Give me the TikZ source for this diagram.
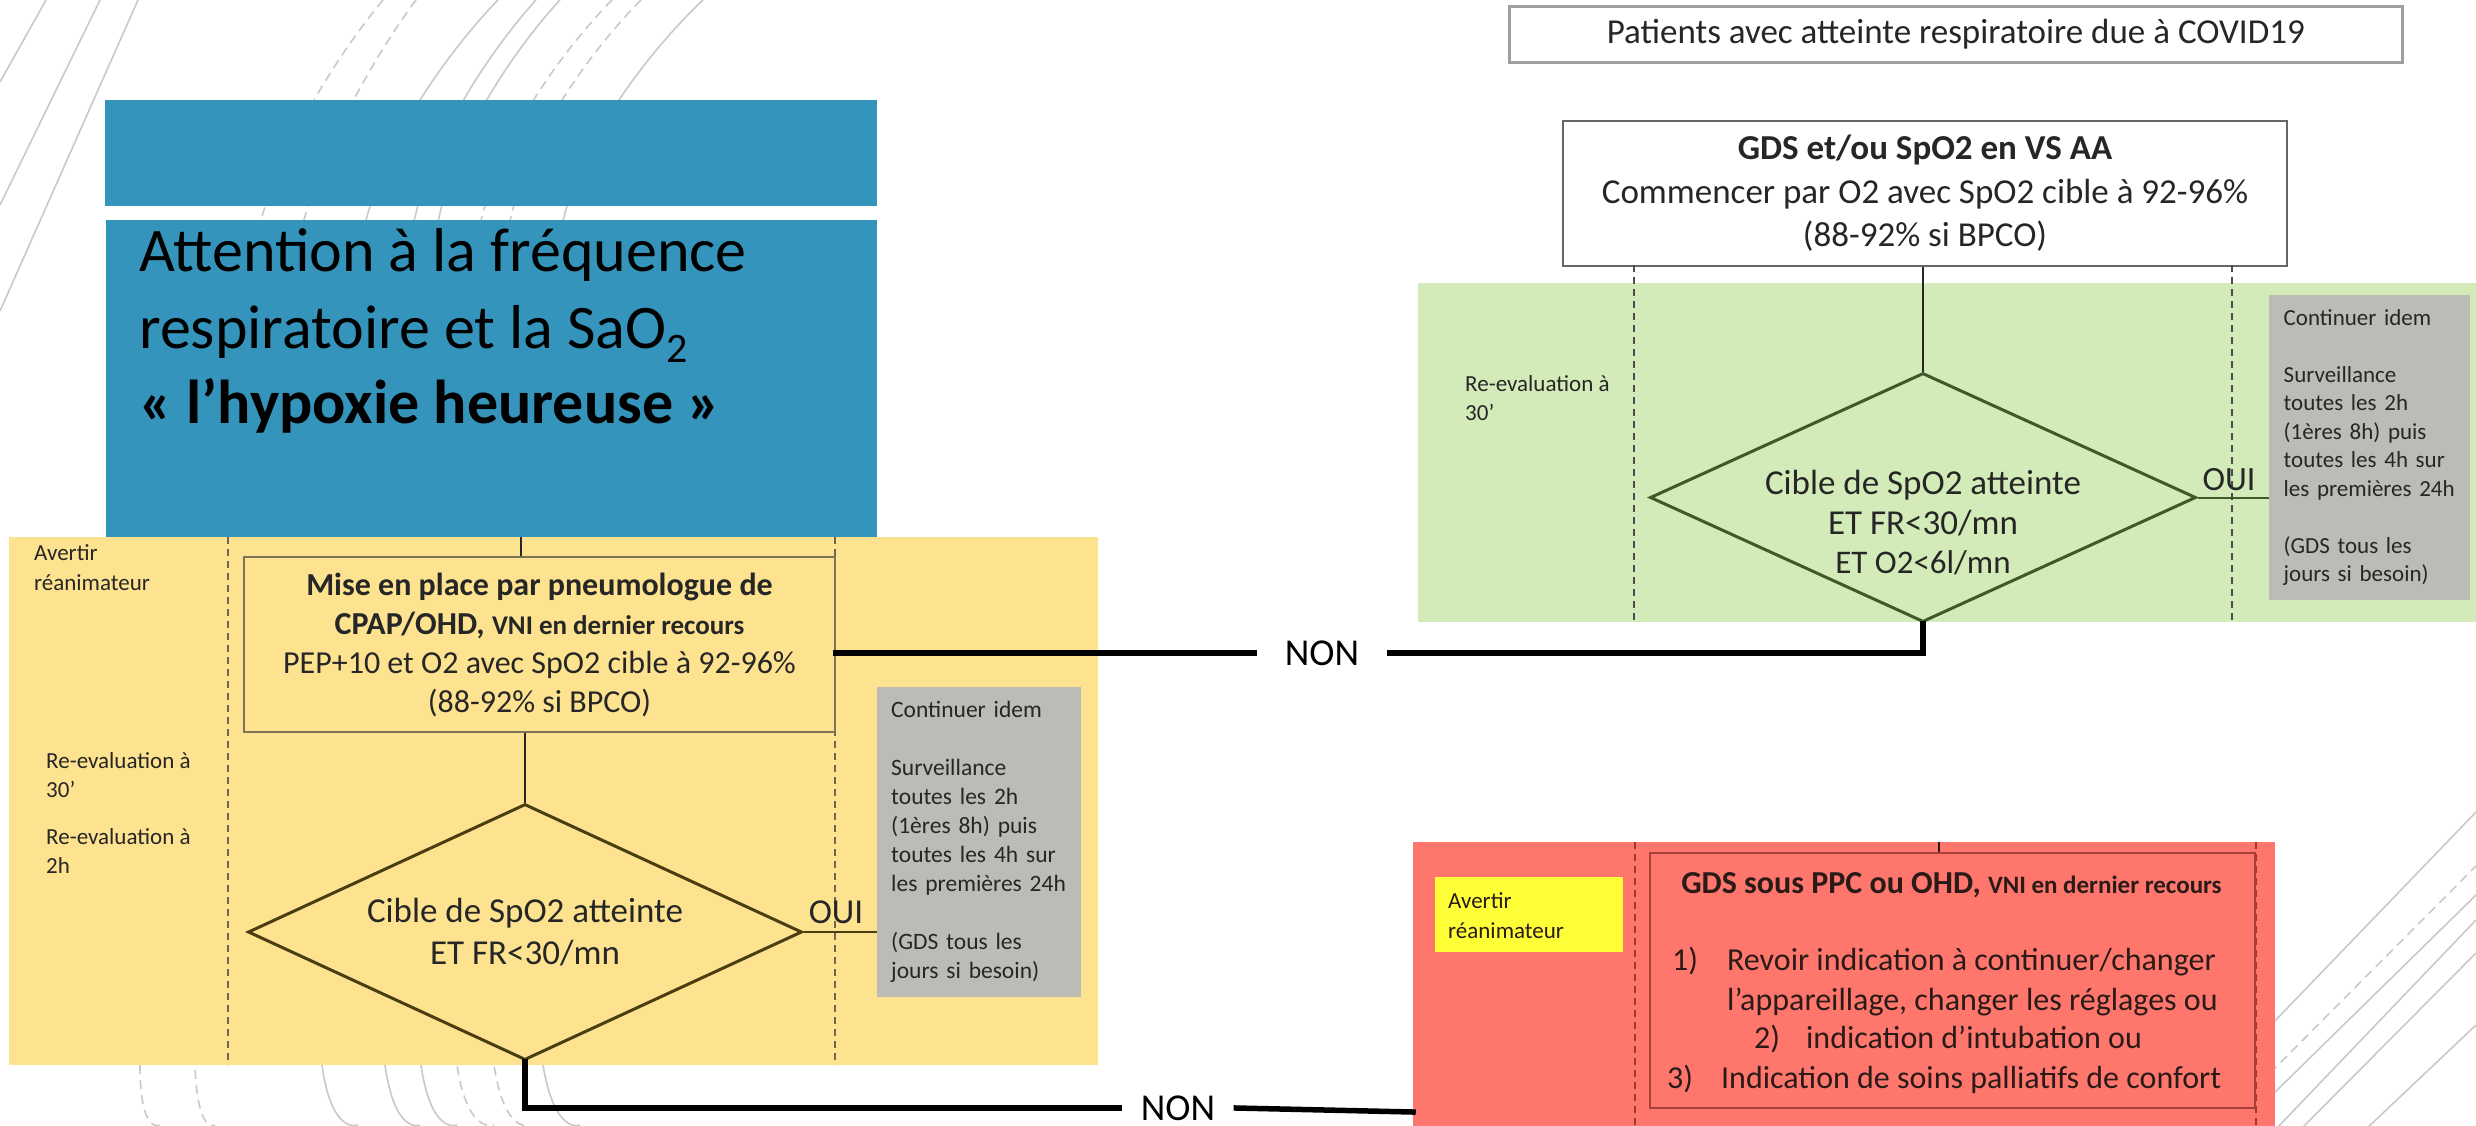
\documentclass[tikz,border=0pt]{standalone}
\usepackage{fontspec}
\setmainfont{Carlito}
\usetikzlibrary{shapes.geometric,calc}
\newcommand\fsz[2]{\fontsize{#1}{#2}\selectfont}
\definecolor{bluebox}{HTML}{3594BB}
\definecolor{ypanelc}{HTML}{FDE38F}
\definecolor{gpanelc}{HTML}{D3EBB8}
\definecolor{rpanelc}{HTML}{FF766C}
\definecolor{graybox}{HTML}{BDBBB6}
\definecolor{hiyellow}{HTML}{FFFF38}
\definecolor{decogray}{HTML}{C9C9C9}
\definecolor{ink}{HTML}{262626}
\definecolor{ydashc}{HTML}{6E6650}
\definecolor{yboxline}{HTML}{7D7355}
\definecolor{ydiamline}{HTML}{4B3D12}
\definecolor{gdiamline}{HTML}{3D5A28}
\definecolor{rdashc}{HTML}{9A3A35}
\definecolor{rboxline}{HTML}{A8403A}
\definecolor{rink}{HTML}{2A1A18}
\begin{document}
\begin{tikzpicture}[x=1pt,y=-1pt,
  deco/.style={draw=decogray,line width=1.6pt},
  decod/.style={deco,dash pattern=on 9pt off 6pt},
  pdash/.style={line width=1.4pt,dash pattern=on 7pt off 5pt},
  thinline/.style={line width=2pt},
  nonline/.style={draw=black,line width=5.5pt,line cap=rect},
  lbl/.style={anchor=base west,inner sep=0pt,font=\fsz{23}{29},text=ink},
  bluetxt/.style={anchor=base west,inner sep=0pt,font=\fsz{62}{77},text=black},
  panel/.style={anchor=north west,inner sep=0pt},
  graytxt/.style={anchor=north west,fill=graybox,inner ysep=0pt,align=left,text=ink}
]
\useasboundingbox (0,0) rectangle (2476,1125);
\fill[white] (0,0) rectangle (2476,1125);

% decorative background lines
\draw[deco] (46,0) -- (0,82);
\draw[deco] (100,0) -- (0,205);
\draw[deco] (138,0) -- (0,311);
\draw[decod] plot[smooth,tension=0.6] coordinates {(383,0) (263,213) (160,700) (140,1065) (160,1125)};
\draw[decod] plot[smooth,tension=0.6] coordinates {(416,0) (306,213) (200,700) (195,1065) (215,1125)};
\draw[deco] plot[smooth,tension=0.6] coordinates {(498,0) (368,213) (300,700) (322,1065) (358,1125)};
\draw[deco] plot[smooth,tension=0.6] coordinates {(536,0) (416,213) (360,700) (385,1065) (420,1125)};
\draw[deco] plot[smooth,tension=0.6] coordinates {(560,0) (440,213) (395,700) (421,1065) (457,1125)};
\draw[decod] plot[smooth,tension=0.6] coordinates {(612,0) (483,213) (430,700) (457,1065) (494,1125)};
\draw[decod] plot[smooth,tension=0.6] coordinates {(641,0) (512,213) (465,700) (494,1065) (530,1125)};
\draw[deco] plot[smooth,tension=0.6] coordinates {(703,0) (565,213) (510,700) (543,1065) (580,1125)};
\draw[deco] (2270,1026) -- (2476,812);
\draw[decod] (2270,1073) -- (2476,866);
\draw[deco] (2270,1097) -- (2476,895);
\draw[deco] (2275,1130) -- (2476,920);
\draw[deco] (2300,1130) -- (2476,953);
\draw[deco] (2365,1130) -- (2476,1025);

% blue title boxes
\node[panel,fill=bluebox,minimum width=772pt,minimum height=106pt] (blue1) at (105,100) {};
\node[panel,fill=bluebox,minimum width=771pt,minimum height=317pt] (blue2) at (106,220) {};
\node[bluetxt] (bt1) at (139,271) {Attention à la fréquence};
\node[bluetxt] (bt2) at (139,348) {respiratoire et la SaO\raisebox{-14pt}{\fsz{42}{42}2}};
\node[bluetxt,font=\fsz{62}{77}\bfseries] (bt3) at (139,423) {« l’hypoxie heureuse »};

% yellow panel
\node[panel,fill=ypanelc,minimum width=1089pt,minimum height=528pt] (ypanel) at (9,537) {};
\draw[pdash,draw=ydashc] (228,537) -- (228,1065);
\draw[pdash,draw=ydashc] (835,537) -- (835,1065);
\node[panel,draw=yboxline,line width=2pt,minimum width=591pt,minimum height=175pt,
      align=center,font=\fsz{32}{39},text=ink] (ybox) at (243,556)
  {{\bfseries Mise en place par pneumologue de}\\
   {\bfseries CPAP/OHD, {\fsz{27}{39}VNI en dernier recours}}\\
   PEP+10 et O2 avec SpO2 cible à 92-96\%\\
   (88-92\% si BPCO)};
\coordinate (ytick) at (521,0);
\draw[thinline,draw=ink] (ypanel.north -| ytick) -- (ybox.north -| ytick);
\node[diamond,draw=ydiamline,line width=3pt,minimum width=554pt,minimum height=256pt,inner sep=0pt] (ydiam) at (525,932) {};
\node[align=center,font=\fsz{35}{42},text=ink,inner sep=0pt] (ydiamtxt) at (525,932) {Cible de SpO2 atteinte\\ET FR<30/mn};
\draw[thinline,draw=ink] (ybox.south -| ydiam.north) -- (ydiam.north);
\node[graytxt,minimum width=204pt,minimum height=310pt,text width=176pt,inner xsep=14pt,font=\fsz{23.5}{29}] (ygray) at (877,687)
  {Continuer idem\\[29pt]Surveillance\\toutes les 2h\\(1ères 8h) puis\\toutes les 4h sur\\les premières 24h\\[29pt](GDS tous les\\jours si besoin)};
\node[font=\fsz{35}{35},text=ink,inner sep=0pt] (youi) at (836,912) {OUI};
\draw[thinline,draw=ydiamline] (ydiam.east) -- (ygray.west |- ydiam.east);
\node[lbl] (ylab1) at (34,560) {Avertir};
\node[lbl] (ylab2) at (34,590) {réanimateur};
\node[lbl] (ylab3) at (46,768) {Re-evaluation à};
\node[lbl] (ylab4) at (46,797) {30’};
\node[lbl] (ylab5) at (46,844) {Re-evaluation à};
\node[lbl] (ylab6) at (46,873) {2h};

% green part
\node[panel,draw=gray!75,line width=2.5pt,minimum width=893pt,minimum height=56pt,font=\fsz{35}{35},text=ink] (patients) at (1508,5)
  {Patients avec atteinte respiratoire due à COVID19};
\node[panel,fill=gpanelc,minimum width=1058pt,minimum height=339pt] (gpanel) at (1418,283) {};
\node[panel,draw=gray!80!black,line width=2pt,minimum width=724pt,minimum height=145pt,align=center,font=\fsz{35}{43.5},text=ink] (gds) at (1562,120)
  {{\bfseries GDS et/ou SpO2 en VS AA}\\Commencer par O2 avec SpO2 cible à 92-96\%\\(88-92\% si BPCO)};
\draw[pdash,draw=gray!60!black] (1634,265) -- (1634,622);
\draw[pdash,draw=gray!60!black] (2232,265) -- (2232,622);
\node[diamond,draw=gdiamline,line width=3pt,minimum width=546pt,minimum height=249pt,inner sep=0pt] (gdiam) at (1923,497.5) {};
\node[align=center,font=\fsz{35}{39.5},text=ink,inner sep=0pt] (gdiamtxt) at (1923,523)
  {Cible de SpO2 atteinte\\ET FR<30/mn\\{\fsz{33}{39.5}ET O2<6l/mn}};
\draw[thinline,draw=ink] (gds.south -| gdiam.north) -- (gdiam.north);
\node[graytxt,minimum width=201pt,minimum height=305pt,text width=172pt,inner xsep=14.5pt,font=\fsz{23}{28.5}] (ggray) at (2269,295)
  {Continuer idem\\[28.5pt]Surveillance\\toutes les 2h\\(1ères 8h) puis\\toutes les 4h sur\\les premières 24h\\[28.5pt](GDS tous les\\jours si besoin)};
\node[font=\fsz{34}{34},text=ink,inner sep=0pt] (goui) at (2229,480) {OUI};
\draw[thinline,draw=gdiamline] (gdiam.east) -- (ggray.west |- gdiam.east);
\node[lbl] (glab1) at (1465,391) {Re-evaluation à};
\node[lbl] (glab2) at (1465,420) {30’};

% red part
\node[panel,fill=rpanelc,minimum width=862pt,minimum height=290pt] (rpanel) at (1413,842) {};
\draw[pdash,draw=rdashc] (1635,842) -- (1635,1125);
\draw[pdash,draw=rdashc] (2256,842) -- (2256,1125);
\node[panel,fill=hiyellow,minimum width=188pt,minimum height=75pt] (rhi) at (1435,877) {};
\node[lbl,text=rink] (rlab1) at (1448,908) {Avertir};
\node[lbl,text=rink] (rlab2) at (1448,938) {réanimateur};
\node[panel,draw=rboxline,line width=2pt,minimum width=605pt,minimum height=255pt] (rbox) at (1649,852) {};
\coordinate (rtick) at (1939,0);
\draw[thinline,draw=rink] (rpanel.north -| rtick) -- (rbox.north -| rtick);
\node[anchor=base,inner sep=0pt,font=\fsz{32}{39}\bfseries,text=rink] (rt0) at (1951.5,893)
  {GDS sous PPC ou OHD, {\fsz{25}{39}VNI en dernier recours}};
\node[anchor=base west,inner sep=0pt,font=\fsz{32}{39},text=rink] (rt1) at (1672,970) {1)\hspace{29pt}Revoir indication à continuer/changer};
\node[anchor=base west,inner sep=0pt,font=\fsz{32}{39},text=rink] (rt2) at (1727,1010) {l’appareillage, changer les réglages ou};
\node[anchor=base west,inner sep=0pt,font=\fsz{32}{39},text=rink] (rt3) at (1754,1048) {2)\hspace{26pt}indication d’intubation ou};
\node[anchor=base west,inner sep=0pt,font=\fsz{32}{39},text=rink] (rt4) at (1667,1088) {3)\hspace{28pt}Indication de soins palliatifs de confort};

% NON connectors
\node[font=\fsz{38}{38},text=black,inner xsep=30pt,inner ysep=0pt] (non1) at (1322,653) {NON};
\node[font=\fsz{38}{38},text=black,inner xsep=21pt,inner ysep=0pt] (non2) at (1178,1108) {NON};
\coordinate (redin) at (1413,1112);
\draw[nonline] (ybox.east |- non1) -- (non1.west);
\draw[nonline] (non1.east) -- (gdiam.south |- non1.east) -- (gdiam.south);
\draw[nonline] (ydiam.south) -- (ydiam.south |- non2) -- (non2.west);
\draw[nonline] (non2.east) -- (redin);
\end{tikzpicture}
\end{document}
